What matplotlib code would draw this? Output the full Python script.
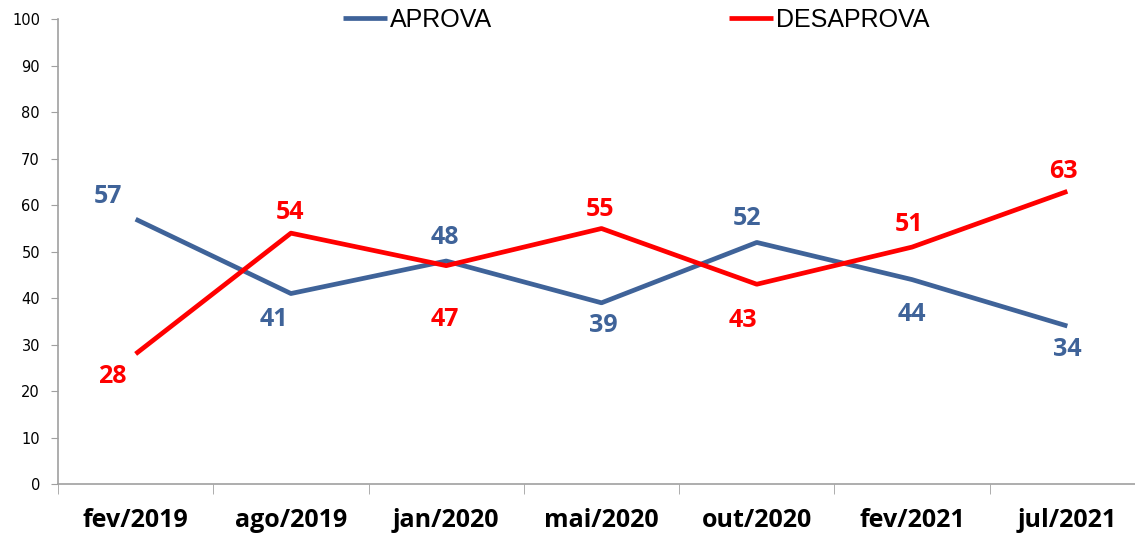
import numpy as np
import matplotlib.pyplot as plt

periods = ["fev/2019", "ago/2019", "jan/2020", "mai/2020", "out/2020", "fev/2021", "jul/2021"]
aprova = [57, 41, 48, 39, 52, 44, 34]
desaprova = [28, 54, 47, 55, 43, 51, 63]

# label offsets from the point, in points
aprova_off = [(-20, 16), (-12, -19), (-1, 17), (1, -16), (-7, 17), (0, -25), (0, -17)]
desaprova_off = [(-17, -16), (-1, 15), (-1, -39), (-1, 14), (-10, -26), (-2, 16), (-3, 14)]

blue = "#3F6399"
red = "#FF0000"
grey = "#A0A0A0"

fig = plt.figure(figsize=(11.35, 5.41), dpi=100)
ax = fig.add_axes([0.0511, 0.1054, 0.9577, 0.8586])

x = np.arange(len(periods))
ax.plot(x, aprova, color=blue, lw=3.4, label="APROVA", solid_capstyle="butt")
ax.plot(x, desaprova, color=red, lw=3.4, label="DESAPROVA", solid_capstyle="butt")

for vals, offs, col in ((aprova, aprova_off, blue), (desaprova, desaprova_off, red)):
    for xi, v, o in zip(x, vals, offs):
        ax.annotate(str(v), (xi, v), xytext=o, textcoords="offset points",
                    ha="center", va="center", color=col, fontsize=18,
                    fontweight="bold", family="Open Sans")

ax.set_xlim(-0.5, 6.5)
ax.set_ylim(0, 100)
ax.set_yticks(range(0, 101, 10))
ax.set_xticks(x)
ax.set_xticklabels(periods, fontsize=18, fontweight="bold", family="Open Sans")
ax.set_xticks(np.arange(-0.5, 6.5, 1), minor=True)
ax.tick_params(axis="x", which="major", length=0, pad=17)
ax.tick_params(axis="x", which="minor", length=7, color=grey)
ax.tick_params(axis="y", length=5, color=grey, labelsize=10.5, pad=8)
for lab in ax.get_yticklabels():
    lab.set_family("DejaVu Sans")
for side in ("top", "right"):
    ax.spines[side].set_visible(False)
for side in ("left", "bottom"):
    ax.spines[side].set_color(grey)
    ax.spines[side].set_linewidth(1.2)

leg = fig.legend(loc="center left", bbox_to_anchor=(343 / 1135, 1 - 20 / 541), ncol=2,
                 frameon=False, borderpad=0, borderaxespad=0,
                 columnspacing=9.5, handlelength=1.75, handletextpad=0.12,
                 prop={"family": "Liberation Sans", "size": 18})

fig.savefig("out.png")
